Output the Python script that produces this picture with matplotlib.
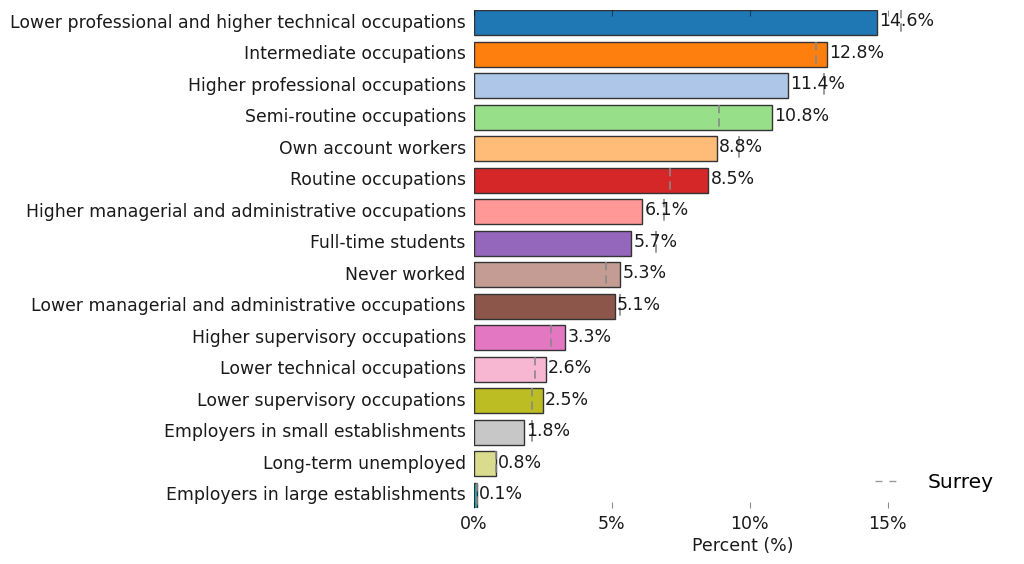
import matplotlib
matplotlib.use("Agg")
import matplotlib.pyplot as plt
from matplotlib.lines import Line2D

# occupation shares (%) and the Surrey reference values
categories = [
    "Lower professional and higher technical occupations",
    "Intermediate occupations",
    "Higher professional occupations",
    "Semi-routine occupations",
    "Own account workers",
    "Routine occupations",
    "Higher managerial and administrative occupations",
    "Full-time students",
    "Never worked",
    "Lower managerial and administrative occupations",
    "Higher supervisory occupations",
    "Lower technical occupations",
    "Lower supervisory occupations",
    "Employers in small establishments",
    "Long-term unemployed",
    "Employers in large establishments",
]
values = [14.6, 12.8, 11.4, 10.8, 8.8, 8.5, 6.1, 5.7, 5.3, 5.1, 3.3, 2.6, 2.5, 1.8, 0.8, 0.1]
surrey = [15.5, 12.4, 12.7, 8.9, 9.6, 7.1, 6.9, 6.6, 4.8, 5.3, 2.8, 2.2, 2.1, 2.1, 0.8, 0.1]
colors = ["#1f77b4", "#ff7f0e", "#aec7e8", "#98df8a", "#ffbb78", "#d62728",
          "#ff9896", "#9467bd", "#c49c94", "#8c564b", "#e377c2", "#f7b6d2",
          "#bcbd22", "#c7c7c7", "#dbdb8d", "#17becf"]
xticks = [0, 5, 10, 15]

fig = plt.figure(figsize=(10.24, 5.64), dpi=100)
ax = fig.add_axes([0.463, 0.0993, 0.525, 0.883])

pos = list(range(len(categories)))
ax.barh(pos, values, height=0.8, color=colors, edgecolor="#333333", linewidth=1.0)
ax.vlines(surrey, [p - 0.4 for p in pos], [p + 0.4 for p in pos],
          colors="#888888", linestyles=(0, (5, 3)), linewidth=1.2, zorder=3)

for p, v in zip(pos, values):
    ax.text(v + 0.08, p - 0.04, f"{v}%", va="center", ha="left", fontsize=12.5, color="#1a1a1a")

ax.set_ylim(len(categories) - 0.6, -0.4)
ax.set_xlim(0, 19.5)
ax.set_yticks(pos)
ax.set_yticklabels(categories, fontsize=12.4, color="#1a1a1a")
for lbl in ax.get_yticklabels():
    lbl.set_va("center")
ax.set_xticks(xticks)
ax.set_xticklabels([f"{t}%" for t in xticks], fontsize=12.5, color="#1a1a1a")
ax.set_xlabel("Percent (%)", fontsize=12.5, color="#1a1a1a", labelpad=3)
ax.tick_params(axis="y", length=0, pad=6)
ax.tick_params(axis="x", direction="in", length=4, color=(0, 0, 0, 0.45), top=True, pad=5)
for s in ax.spines.values():
    s.set_visible(False)

handle = Line2D([0], [0], color="#999999", linestyle=(0, (5, 5)), linewidth=1.0)
ax.legend([handle], ["Surrey"], loc="lower right", frameon=False, fontsize=14.5,
          handlelength=1.35, handletextpad=1.25, bbox_to_anchor=(1.0, -0.005))

fig.savefig("out.png", dpi=100)
